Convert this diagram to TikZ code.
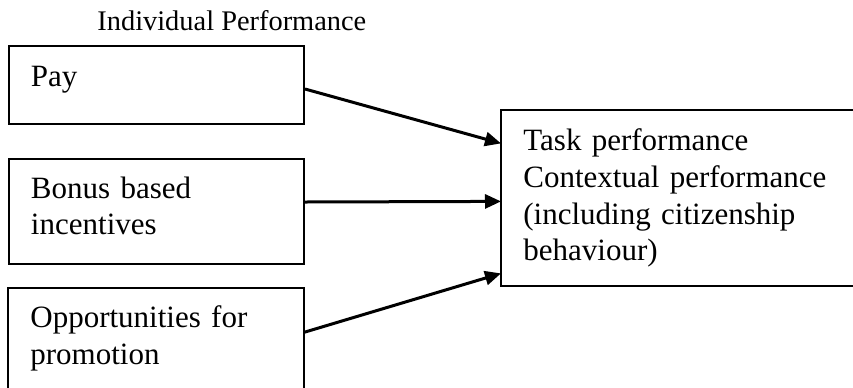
\documentclass[tikz,border=0pt]{standalone}
\usepackage{fontspec}
\setmainfont{Liberation Serif}
\usetikzlibrary{arrows.meta}

\tikzset{
  factor/.style={anchor=north west, align=left,
    inner xsep=11pt, inner ysep=0pt, text width=125.5pt,
    font=\fontsize{15.5pt}{18.4pt}\selectfont},
  framed/.style={factor, draw, line width=1pt},
  outcome/.style={factor, text width=154pt},
  cutframe/.style={line width=1pt},
  link/.style={line width=1.5pt, -{Triangle[length=8pt,width=7pt]}}
}

\begin{document}
\begin{tikzpicture}[x=0.5pt, y=-0.5pt]
  \useasboundingbox (0,0) rectangle (853,387);

  \node[anchor=base west, inner sep=0pt, font=\fontsize{14.2pt}{17pt}\selectfont] (title) at (97,30) {Individual Performance};

  % reward boxes
  \node[framed, text height=20pt, text depth=19pt] (pay) at (8,45) {Pay};
  \node[framed, text height=19.5pt, text depth=33pt] (bonus) at (8,158) {Bonus based\\incentives};
  \node[factor, text height=19.5pt, text depth=30pt] (promo) at (8,288) {Opportunities for\\promotion};

  % performance box
  \node[outcome, text height=20pt, text depth=67.5pt] (task) at (501,110)
    {Task performance\\Contextual performance\\(including citizenship\\behaviour)};

  % boxes cut by the page edge
  \draw[cutframe] (promo.south west) -- (promo.north west) -- (promo.north east) -- (promo.south east);
  \draw[cutframe] (task.north east) -- (task.north west) -- (task.south west) -- (task.south east);

  \draw[link] ([yshift=-2pt]pay.east) -- ([yshift=27.25pt]task.west);
  \draw[link] ([yshift=4.75pt]bonus.east) -- ([yshift=-1.75pt]task.west);
  \draw[link] ([yshift=2.75pt]promo.east) -- ([yshift=-37.75pt]task.west);
\end{tikzpicture}
\end{document}
